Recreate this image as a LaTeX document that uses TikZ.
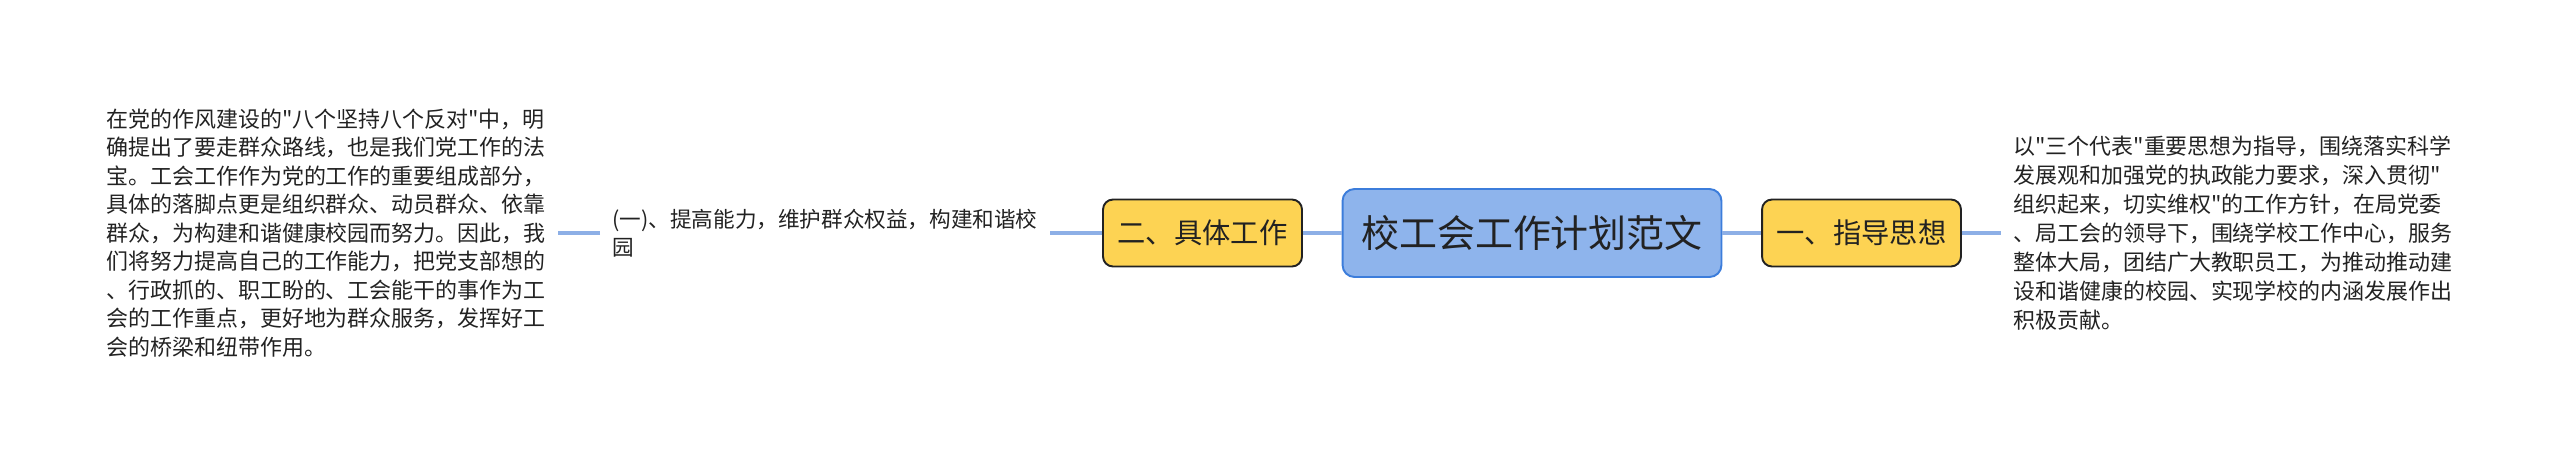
\documentclass[tikz,border=0pt]{standalone}
\usepackage{fontspec}
\newfontfamily\cjk{Noto Sans CJK SC}
\definecolor{rootfill}{HTML}{8EB4EC}
\definecolor{rootline}{HTML}{3C7DDB}
\definecolor{topicfill}{HTML}{FDD353}
\definecolor{linkblue}{HTML}{8DAFE6}
\definecolor{inkgray}{HTML}{222222}
\begin{document}
\begin{tikzpicture}[
        x=0.02cm, y=-0.02cm,
        root/.style={draw=rootline, fill=rootfill, line width=1.1pt, rounded corners=0.24cm,
            minimum width=7.58cm, minimum height=1.76cm, inner sep=0pt, text=inkgray,
            font=\cjk\fontsize{21.6pt}{26pt}\selectfont},
        topic/.style={draw=inkgray, fill=topicfill, line width=1.1pt, rounded corners=0.2cm,
            minimum width=3.98cm, minimum height=1.34cm, inner sep=0pt, text=inkgray,
            font=\cjk\fontsize{16.1pt}{20pt}\selectfont},
        note/.style={anchor=west, align=left, inner xsep=0.24cm, inner ysep=0pt, text=inkgray},
        branch/.style={draw=linkblue, line width=2pt}
    ]
        \useasboundingbox (0,0) rectangle (2560,467);
        \node[root] (plan) at (1532,233) {校工会工作计划范文};
        \node[topic] (work) at (1202.5,233) {二、具体工作};
        \node[topic] (guide) at (1861.5,233) {一、指导思想};
        \node[note, font=\cjk\fontsize{12.3pt}{16.2pt}\selectfont] (task1) at (600,233)
            {(一)、提高能力，维护群众权益，构建和谐校\\园};
        \node[note, font=\cjk\fontsize{12.5pt}{16.2pt}\selectfont] (basis) at (94,233)
            {在党的作风建设的"八个坚持八个反对"中，明\\
             确提出了要走群众路线，也是我们党工作的法\\
             宝。工会工作作为党的工作的重要组成部分，\\
             具体的落脚点更是组织群众、动员群众、依靠\\
             群众，为构建和谐健康校园而努力。因此，我\\
             们将努力提高自己的工作能力，把党支部想的\\
             、行政抓的、职工盼的、工会能干的事作为工\\
             会的工作重点，更好地为群众服务，发挥好工\\
             会的桥梁和纽带作用。};
        \node[note, font=\cjk\fontsize{12.5pt}{16.5pt}\selectfont] (thought) at (2001,233)
            {以"三个代表"重要思想为指导，围绕落实科学\\
             发展观和加强党的执政能力要求，深入贯彻"\\
             组织起来，切实维权"的工作方针，在局党委\\
             、局工会的领导下，围绕学校工作中心，服务\\
             整体大局，团结广大教职员工，为推动推动建\\
             设和谐健康的校园、实现学校的内涵发展作出\\
             积极贡献。};
        \draw[branch] (plan) -- (work);
        \draw[branch] (plan) -- (guide);
        \draw[branch] (work) -- (task1);
        \draw[branch] (task1) -- (basis);
        \draw[branch] (guide) -- (thought);
    \end{tikzpicture}
\end{document}
